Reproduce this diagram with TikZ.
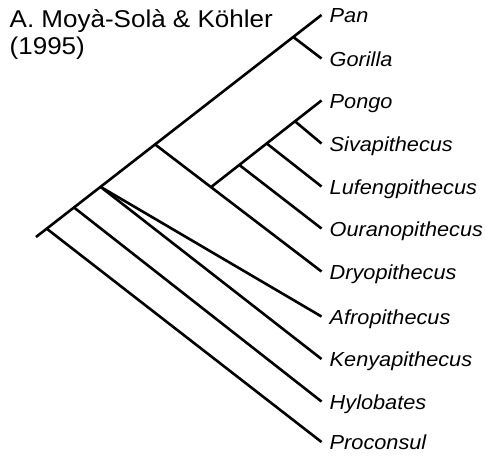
\documentclass[tikz,border=0pt]{standalone}
\usepackage{fontspec}
\setmainfont{Liberation Sans}[FakeStretch=1.07]
\usetikzlibrary{calc}
\begin{document}
\begin{tikzpicture}[x=1pt,y=-1pt,
  edge/.style={line width=2.6pt},
  lab/.style={anchor=base west, inner sep=0pt, xshift=8pt, yshift=-7.5pt,
    font=\fontsize{20.3}{24}\selectfont\itshape},
  ttl/.style={anchor=base west, inner sep=0pt,
    font=\fontsize{24.3}{26.7}\selectfont}]
\useasboundingbox (0,0) rectangle (486,458);
% tips
\coordinate (tPan) at (321.5,15);
\coordinate (tGor) at (321.5,58.5);
\coordinate (tPon) at (321.5,100.5);
\coordinate (tSiv) at (321.5,143.5);
\coordinate (tLuf) at (321.5,186.5);
\coordinate (tOur) at (321.5,228.5);
\coordinate (tDry) at (321.5,271.5);
\coordinate (tAfr) at (321.5,316.5);
\coordinate (tKen) at (321.5,359);
\coordinate (tHyl) at (321.5,401.5);
\coordinate (tPro) at (321.5,442);
% main spine
\coordinate (root) at (36,237);
\coordinate (nP) at ($(root)!0.0375!(tPan)$);
\coordinate (nH) at ($(root)!0.133!(tPan)$);
\coordinate (nA) at ($(root)!0.226!(tPan)$);
\coordinate (nD) at ($(root)!0.417!(tPan)$);
\coordinate (nG) at ($(root)!0.901!(tPan)$);
% great ape subclade
\coordinate (S) at ($(nD)!0.336!(tDry)$);
\coordinate (sO) at ($(S)!0.256!(tPon)$);
\coordinate (sL) at ($(S)!0.504!(tPon)$);
\coordinate (sS) at ($(S)!0.76!(tPon)$);

\draw[edge] (root) -- (tPan);
\draw[edge] (nG) -- (tGor);
\draw[edge] (nD) -- (tDry);
\draw[edge] (S) -- (tPon);
\draw[edge] (sS) -- (tSiv);
\draw[edge] (sL) -- (tLuf);
\draw[edge] (sO) -- (tOur);
\draw[edge] (nA) -- (tAfr);
\draw[edge] (nA) -- (tKen);
\draw[edge] (nH) -- (tHyl);
\draw[edge] (nP) -- (tPro);

\node[lab] (lPan) at (tPan) {Pan};
\node[lab] (lGor) at (tGor) {Gorilla};
\node[lab] (lPon) at (tPon) {Pongo};
\node[lab] (lSiv) at (tSiv) {Sivapithecus};
\node[lab] (lLuf) at (tLuf) {Lufengpithecus};
\node[lab] (lOur) at (tOur) {Ouranopithecus};
\node[lab] (lDry) at (tDry) {Dryopithecus};
\node[lab] (lAfr) at (tAfr) {Afropithecus};
\node[lab] (lKen) at (tKen) {Kenyapithecus};
\node[lab] (lHyl) at (tHyl) {Hylobates};
\node[lab] (lPro) at (tPro) {Proconsul};

\node[ttl] (title1) at (9.5,27.3) {A. Moyà-Solà \& Köhler};
\node[ttl] (title2) at (9.5,54) {(1995)};
\end{tikzpicture}
\end{document}
